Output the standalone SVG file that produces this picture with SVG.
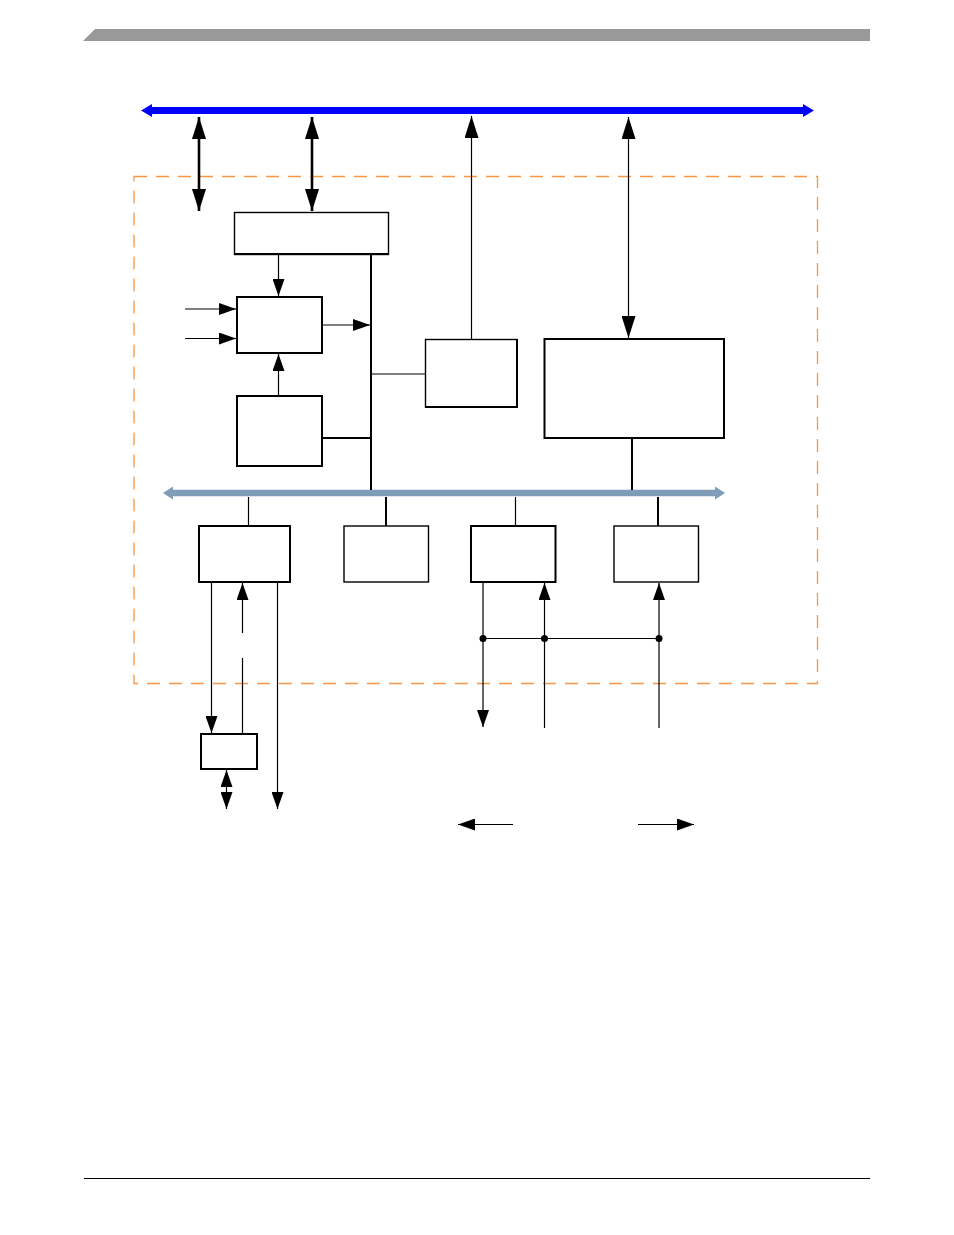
<svg xmlns="http://www.w3.org/2000/svg" width="954" height="1235" viewBox="0 0 954 1235">
<style>
.box{fill:#fff;stroke:#000;stroke-width:2}
.thin{fill:#fff;stroke:#000;stroke-width:1.4}
.c1{stroke:#000;stroke-width:1.2;fill:none}
.c2{stroke:#000;stroke-width:2;fill:none}
.c3{stroke:#000;stroke-width:2.6;fill:none}
</style>
<defs>
<marker id="a" markerUnits="userSpaceOnUse" markerWidth="18" markerHeight="12" viewBox="0 0 18 12" refX="17" refY="6" orient="auto-start-reverse"><path d="M0,0 L17,6 L0,12 Z" fill="#000"/></marker>
<marker id="aL" markerUnits="userSpaceOnUse" markerWidth="23" markerHeight="14" viewBox="0 0 23 14" refX="22" refY="7" orient="auto-start-reverse"><path d="M0,0 L22,7 L0,14 Z" fill="#000"/></marker>
</defs>
<rect width="954" height="1235" fill="#fff"/>
<g id="header"><polygon points="95,29 870,29 870,41 83,41" fill="#999"/></g>
<g id="footer"><line x1="84" y1="1178.5" x2="870" y2="1178.5" stroke="#000" stroke-width="1.2"/></g>
<g id="boundary"><rect x="134" y="176.5" width="683.5" height="507" fill="none" stroke="#F79646" stroke-width="1.3" stroke-dasharray="13,9"/></g>
<g id="system-bus">
<line x1="150" y1="110.5" x2="805" y2="110.5" stroke="#0000FF" stroke-width="7"/>
<polygon points="141,110.5 152,104 152,117" fill="#0000FF"/>
<polygon points="814,110.5 803,104 803,117" fill="#0000FF"/>
</g>
<g id="peripheral-bus">
<line x1="170" y1="493" x2="718" y2="493" stroke="#7F9DB9" stroke-width="6.5"/>
<polygon points="163,493 173,486.5 173,499.5" fill="#7F9DB9"/>
<polygon points="725,493 715,486.5 715,499.5" fill="#7F9DB9"/>
</g>
<g id="connectors">
<line class="c3" x1="199" y1="117" x2="199" y2="211" marker-start="url(#aL)" marker-end="url(#aL)"/>
<line class="c3" x1="312" y1="117" x2="312" y2="211" marker-start="url(#aL)" marker-end="url(#aL)"/>
<line class="c1" x1="471.5" y1="340" x2="471.5" y2="116" marker-end="url(#aL)"/>
<line class="c1" x1="628.5" y1="117" x2="628.5" y2="338" marker-start="url(#aL)" marker-end="url(#aL)"/>
<line class="c1" x1="278.5" y1="255" x2="278.5" y2="296" marker-end="url(#a)"/>
<line class="c2" x1="371" y1="255" x2="371" y2="490"/>
<line class="c1" x1="185" y1="309" x2="236" y2="309" marker-end="url(#a)"/>
<line class="c1" x1="185" y1="338.5" x2="236" y2="338.5" marker-end="url(#a)"/>
<line class="c1" x1="322" y1="325" x2="370" y2="325" marker-end="url(#a)"/>
<line class="c1" x1="278.5" y1="396" x2="278.5" y2="354" marker-end="url(#a)"/>
<line class="c2" x1="322" y1="438" x2="371" y2="438"/>
<line class="c1" x1="371" y1="374" x2="425" y2="374"/>
<line class="c2" x1="632" y1="438" x2="632" y2="490"/>
<line class="c1" x1="248.5" y1="497" x2="248.5" y2="526"/>
<line class="c2" x1="386" y1="497" x2="386" y2="526"/>
<line class="c1" x1="515.5" y1="497" x2="515.5" y2="526"/>
<line class="c2" x1="658" y1="497" x2="658" y2="526"/>
<line class="c1" x1="211.5" y1="582" x2="211.5" y2="733" marker-end="url(#a)"/>
<line class="c1" x1="242.5" y1="733" x2="242.5" y2="658"/>
<line class="c1" x1="242.5" y1="633" x2="242.5" y2="583" marker-end="url(#a)"/>
<line class="c1" x1="277.5" y1="582" x2="277.5" y2="809" marker-end="url(#a)"/>
<line class="c1" x1="226.5" y1="770" x2="226.5" y2="809" marker-start="url(#a)" marker-end="url(#a)"/>
<line class="c1" x1="483" y1="582" x2="483" y2="727" marker-end="url(#a)"/>
<line class="c1" x1="544.5" y1="728" x2="544.5" y2="583" marker-end="url(#a)"/>
<line class="c1" x1="659" y1="728" x2="659" y2="583" marker-end="url(#a)"/>
<line class="c1" x1="483" y1="638.5" x2="659" y2="638.5"/>
<circle cx="483" cy="638.5" r="3.5" fill="#000"/>
<circle cx="544.5" cy="638.5" r="3.5" fill="#000"/>
<circle cx="659" cy="638.5" r="3.5" fill="#000"/>
<line class="c1" x1="513" y1="824.5" x2="458" y2="824.5" marker-end="url(#a)"/>
<line class="c1" x1="638" y1="824.5" x2="694" y2="824.5" marker-end="url(#a)"/>
</g>
<g id="box-top"><rect class="thin" x="234.5" y="212.5" width="154" height="42"/><line class="c2" x1="234" y1="254" x2="389" y2="254"/></g>
<g id="box-mid"><rect class="box" x="237" y="297" width="85" height="56"/></g>
<g id="box-low"><rect class="box" x="237" y="396" width="85" height="70"/></g>
<g id="box-right"><rect class="thin" x="425.5" y="339.5" width="91.5" height="67.5"/><line class="c2" x1="425" y1="407" x2="518" y2="407"/><line class="c2" x1="517" y1="339" x2="517" y2="408"/></g>
<g id="box-big"><rect class="box" x="544.5" y="339" width="179.5" height="99"/></g>
<g id="box-p1"><rect class="box" x="199" y="526" width="91" height="56"/></g>
<g id="box-p2"><rect class="thin" x="344" y="526" width="84.5" height="56"/></g>
<g id="box-p3"><rect class="box" x="471" y="526" width="84.5" height="56"/></g>
<g id="box-p4"><rect class="thin" x="614" y="526" width="84.5" height="56"/></g>
<g id="box-ext"><rect class="box" x="201" y="734" width="56" height="35"/></g>
</svg>
